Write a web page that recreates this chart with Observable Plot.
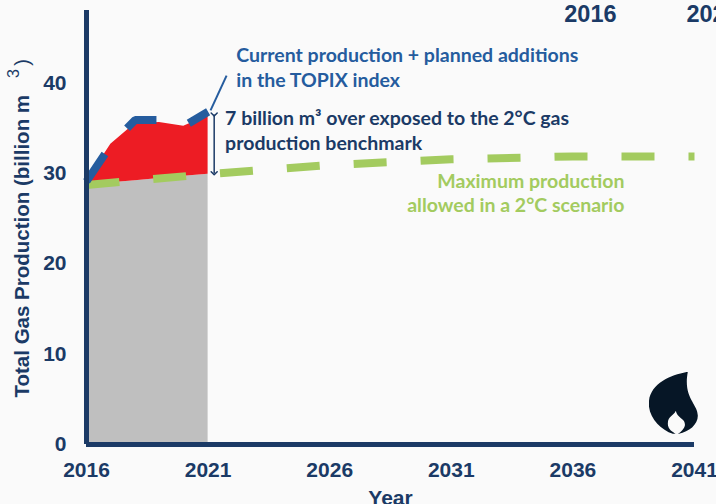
<!DOCTYPE html>
<html><head><meta charset="utf-8">
<script src="https://cdn.jsdelivr.net/npm/d3@7"></script>
<script src="https://cdn.jsdelivr.net/npm/@observablehq/plot@0.6"></script>
<style>html,body{margin:0;padding:0;background:#fafafa;overflow:hidden}svg{display:block}</style>
</head><body><div id="chart"></div>
<script>
const years = [2016, 2017, 2018, 2019, 2020, 2021];
const productionTop = [29.1, 33.2, 35.5, 35.6, 35.2, 36.4];
const productionLine = [29.1, 33.1, 35.9, 35.9, 35.2, 36.8];
const benchmarkYears = [2016, 2021, 2026, 2031, 2036, 2041];
const benchmark = [28.7, 29.9, 30.9, 31.55, 31.86, 31.86];
const xTicks = [2016, 2021, 2026, 2031, 2036, 2041];
const yTicks = [0, 10, 20, 30, 40];
const navy = "#1b3a66", blue = "#255c9e", green = "#a3cb5f";

const sansLabels = [
  {t: "Current production + planned additions", x: 2022.16, y: 43.0, c: blue, a: "start"},
  {t: "in the TOPIX index", x: 2022.16, y: 40.2, c: blue, a: "start"},
  {t: "7 billion m³ over exposed to the 2°C gas", x: 2021.7, y: 36.05, c: navy, a: "start"},
  {t: "production benchmark", x: 2021.7, y: 33.3, c: navy, a: "start"},
  {t: "Maximum production", x: 2038.12, y: 29.1, c: green, a: "end"},
  {t: "allowed in a 2°C scenario", x: 2038.12, y: 26.45, c: green, a: "end"}
];
const topLabels = [
  {t: "2016", x: 2036.72, y: 47.6, a: "middle"},
  {t: "2021", x: 2040.67, y: 47.6, a: "start"}
];
const flame = "data:image/svg+xml," + encodeURIComponent(
  '<svg xmlns="http://www.w3.org/2000/svg" viewBox="0 0 50 63">' +
  '<path fill="#061626" d="M39 0C22 3 0 12 0 32C0 46 12 58 24 62L30 62C40 60 49 53 49 44C49 32 34 26 39 0Z"/>' +
  '<path fill="#fafafa" d="M27 39C25 44 19 44 19 52C19 58 24 60 28 63C33 60 37 55 36 52C36 47 28 46 27 39Z"/></svg>');

const rows = years.map((x, i) => ({x, top: productionTop[i], line: productionLine[i], base: benchmark[0] + (benchmark[1] - benchmark[0]) * i / 5}));
const bench = benchmarkYears.map((x, i) => ({x, y: benchmark[i]}));

const plot = Plot.plot({
  width: 716, height: 504,
  marginLeft: 86, marginRight: 22, marginTop: 10, marginBottom: 60,
  style: {background: "#fafafa", fontFamily: "Liberation Sans"},
  x: {domain: [2016, 2041]},
  y: {domain: [0, 48]},
  marks: [
    Plot.areaY(rows, {x: "x", y1: 0, y2: "base", fill: "#bfbfbf"}),
    Plot.areaY(rows, {x: "x", y1: "base", y2: "top", fill: "#ed1c24"}),
    Plot.line(bench, {x: "x", y: "y", stroke: green, strokeWidth: 8, strokeDasharray: "33,34", strokeLinecap: "butt", strokeLinejoin: "miter"}),
    Plot.line(rows, {x: "x", y: "line", stroke: blue, strokeWidth: 8, strokeDasharray: "33,34", strokeLinecap: "butt", strokeLinejoin: "miter"}),
    Plot.link([0], {x1: () => 2021.1, y1: () => 36.95, x2: () => 2021.76, y2: () => 40.8, stroke: blue, strokeWidth: 2}),
    Plot.link([0], {x1: () => 2021.25, y1: () => 36.5, x2: () => 2021.25, y2: () => 30, stroke: navy, strokeWidth: 1.5, markerStart: "arrow", markerEnd: "arrow"}),
    Plot.ruleX([2016], {y1: 0, y2: 48, stroke: navy, strokeWidth: 5}),
    Plot.ruleY([0], {stroke: navy, strokeWidth: 5}),
    Plot.axisX({ticks: xTicks, tickFormat: d => String(d), tickSize: 0, tickPadding: 18, fontSize: 21, fontWeight: "bold", fill: navy, label: null}),
    Plot.axisY({ticks: yTicks, tickSize: 0, tickPadding: 20, fontSize: 21, fontWeight: "bold", fill: navy, label: null}),
    Plot.text(["Year"], {x: () => 2028.5, y: () => -5.9, text: d => d, fontSize: 21, fontWeight: "bold", fill: navy}),
    Plot.text(["Total Gas Production (billion m"], {x: () => 2013.37, y: () => 5.2, text: d => d, rotate: -90, textAnchor: "start", fontSize: 20.5, fontWeight: "bold", fill: navy}),
    Plot.text(["3"], {x: () => 2013.0, y: () => 41.04, text: d => d, rotate: -90, fontSize: 16, fill: navy}),
    Plot.text([")"], {x: () => 2013.37, y: () => 42.26, text: d => d, rotate: -90, fontSize: 20, fill: navy}),
    Plot.text(topLabels, {x: "x", y: "y", text: "t", textAnchor: "start", fontSize: 23.5, fontWeight: "bold", fill: navy, filter: d => d.a === "start"}),
    Plot.text(topLabels, {x: "x", y: "y", text: "t", textAnchor: "middle", fontSize: 23.5, fontWeight: "bold", fill: navy, filter: d => d.a === "middle"}),
    Plot.text(sansLabels.filter(d => d.a === "start"), {x: "x", y: "y", text: "t", fill: "c", textAnchor: "start", fontFamily: "Lato", fontWeight: "bold", fontSize: 19.5}),
    Plot.text(sansLabels.filter(d => d.a === "end"), {x: "x", y: "y", text: "t", fill: "c", textAnchor: "end", fontFamily: "Lato", fontWeight: "bold", fontSize: 19.5}),
    Plot.image([0], {x: () => 2040.15, y: () => 4.56, src: () => flame, width: 50, height: 63})
  ]
});
document.getElementById("chart").append(plot);
</script></body></html>
